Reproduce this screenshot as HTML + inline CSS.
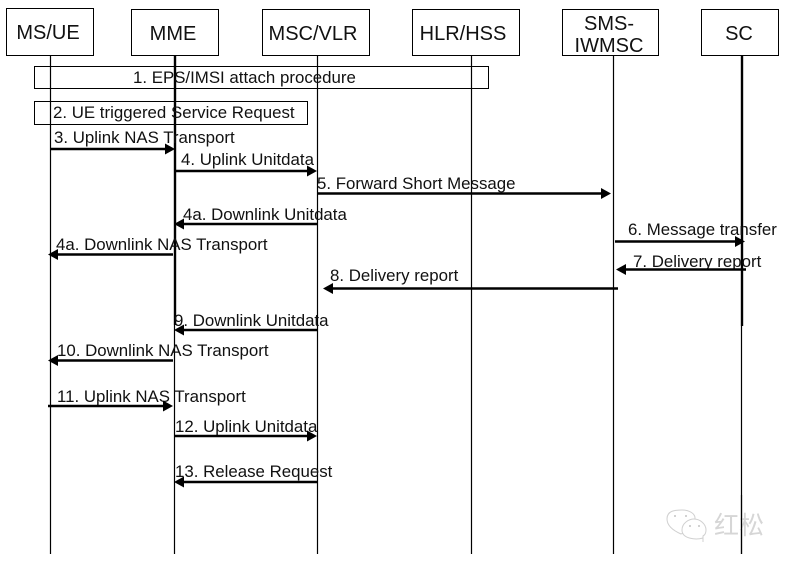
<!DOCTYPE html>
<html><head><meta charset="utf-8"><style>
html,body{margin:0;padding:0;background:#fff;width:789px;height:565px;overflow:hidden}
svg{display:block}
text{font-family:"Liberation Sans",Arial,sans-serif;font-size:16.85px;fill:#111}
.h{font-size:20px;text-anchor:middle}
.b{fill:none;stroke:#000;stroke-width:1}
.l{stroke:#000;stroke-width:1.2}
.t{stroke:#000;stroke-width:2.4}
.a{fill:#000;stroke:none}
</style></head><body>
<svg width="789" height="565" viewBox="0 0 789 565" xmlns="http://www.w3.org/2000/svg">
<rect width="789" height="565" fill="#fff"/>
<g class="b">
<rect x="6.5" y="8.5" width="87" height="47"/>
<rect x="131.5" y="9.5" width="87" height="46"/>
<rect x="262.5" y="9.5" width="107" height="46"/>
<rect x="412.5" y="9.5" width="107" height="46"/>
<rect x="562.5" y="9.5" width="96" height="46"/>
<rect x="701.5" y="9.5" width="77" height="46"/>
<rect x="34.5" y="66.5" width="454" height="22"/>
<rect x="34.5" y="101.5" width="273" height="23"/>
</g>
<g>
<line class="l" x1="50.5" y1="55" x2="50.5" y2="554"/>
<line class="t" x1="175" y1="55" x2="175" y2="325"/>
<line class="l" x1="174.5" y1="325" x2="174.5" y2="554"/>
<line class="l" x1="317.5" y1="55" x2="317.5" y2="554"/>
<line class="l" x1="471.5" y1="55" x2="471.5" y2="554"/>
<line class="l" x1="613.5" y1="55" x2="613.5" y2="554"/>
<line class="t" x1="742" y1="55" x2="742" y2="326"/>
<line class="l" x1="741.5" y1="326" x2="741.5" y2="554"/>
</g>
<text class="h" x="48" y="39">MS/UE</text>
<text class="h" x="173" y="40">MME</text>
<text class="h" x="313" y="40">MSC/VLR</text>
<text class="h" x="463" y="40">HLR/HSS</text>
<text class="h" x="609" y="30">SMS-</text>
<text class="h" x="609" y="52">IWMSC</text>
<text class="h" x="739" y="40">SC</text>

<text x="133" y="83">1. EPS/IMSI attach procedure</text>
<text x="53" y="118">2. UE triggered Service Request</text>
<text x="54" y="143">3. Uplink NAS Transport</text>
<text x="181" y="165">4. Uplink Unitdata</text>
<text x="317" y="189">5. Forward Short Message</text>
<text x="183" y="220">4a. Downlink Unitdata</text>
<text x="56" y="250">4a. Downlink NAS Transport</text>
<text x="628" y="235">6. Message transfer</text>
<text x="633" y="267">7. Delivery report</text>
<text x="330" y="281">8. Delivery report</text>
<text x="174" y="326">9. Downlink Unitdata</text>
<text x="57" y="356">10. Downlink NAS Transport</text>
<text x="57" y="402">11. Uplink NAS Transport</text>
<text x="175" y="432">12. Uplink Unitdata</text>
<text x="175" y="477">13. Release Request</text>

<g>
<line class="t" x1="50" y1="149" x2="166" y2="149"/><polygon class="a" points="175,149 165,143.500 165,154.500"/>
<line class="t" x1="174" y1="171" x2="308" y2="171"/><polygon class="a" points="317,171 307,165.500 307,176.500"/>
<line class="t" x1="317" y1="193.500" x2="602" y2="193.500"/><polygon class="a" points="611,193.500 601,188 601,199"/>
<line class="t" x1="317" y1="224" x2="183" y2="224"/><polygon class="a" points="174,224 184,218.500 184,229.500"/>
<line class="t" x1="173" y1="254.500" x2="57" y2="254.500"/><polygon class="a" points="48,254.500 58,249 58,260"/>
<line class="t" x1="615" y1="241.500" x2="736" y2="241.500"/><polygon class="a" points="745,241.500 735,236 735,247"/>
<line class="t" x1="746" y1="269.500" x2="625" y2="269.500"/><polygon class="a" points="616,269.500 626,264 626,275"/>
<line class="t" x1="618" y1="288.500" x2="332" y2="288.500"/><polygon class="a" points="323,288.500 333,283 333,294"/>
<line class="t" x1="317" y1="330" x2="183" y2="330"/><polygon class="a" points="174,330 184,324.500 184,335.500"/>
<line class="t" x1="173" y1="360.500" x2="57" y2="360.500"/><polygon class="a" points="48,360.500 58,355 58,366"/>
<line class="t" x1="48" y1="406" x2="164" y2="406"/><polygon class="a" points="173,406 163,400.500 163,411.500"/>
<line class="t" x1="174" y1="436" x2="308" y2="436"/><polygon class="a" points="317,436 307,430.500 307,441.500"/>
<line class="t" x1="317" y1="482" x2="183" y2="482"/><polygon class="a" points="174,482 184,476.500 184,487.500"/>
</g>

<g fill="#fff" stroke="#d0d0d0" stroke-width="1">
<path d="M681 534 C672 530 667 525 667 519 C667 511 674 510 682 510 C690 510 695 514 695 518 L695 522 L687 534 L686 532 Z"/>
<path d="M703 538 C696 540 682 539 682 530 C682 523 689 519 694 519 C700 519 706 524 706 530 C706 533 705 535 703 536 L703 542 Z"/>
</g>
<g fill="#c4c4c4"><circle cx="675" cy="516" r="1"/><circle cx="686" cy="516" r="1"/><circle cx="690" cy="526" r="1"/><circle cx="699" cy="526" r="1"/></g>
<text x="714" y="534" style="font-family:'Liberation Sans','Noto Sans CJK SC',sans-serif;font-size:25px;fill:#d6d6d6">红松</text>
<line class="l" x1="741.5" y1="495" x2="741.5" y2="554"/>
</svg>
</body></html>
